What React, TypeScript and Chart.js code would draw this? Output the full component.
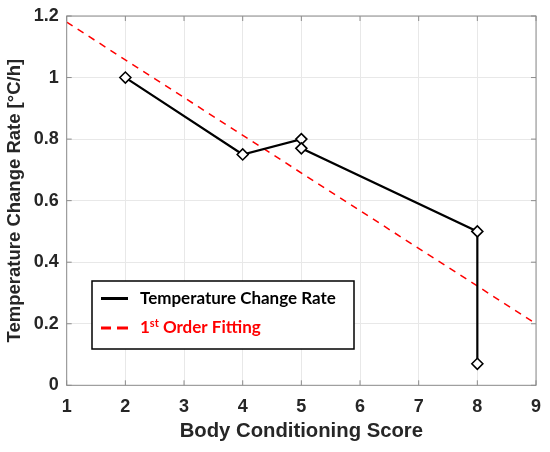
import { useRef, useEffect } from "react";
import { Chart, registerables, type ChartConfiguration, type Plugin } from "chart.js";

Chart.register(...registerables);

// measured series
const scoreX = [2, 4, 5, 5, 8, 8];
const rateY = [1.0, 0.75, 0.8, 0.77, 0.5, 0.07];

// 1st order fit endpoints
const fitX = [1, 9];
const fitY = [1.18, 0.2];

const xTicks = [1, 2, 3, 4, 5, 6, 7, 8, 9];
const yTicks = [0, 0.2, 0.4, 0.6, 0.8, 1, 1.2];
const yTickLabels = ["0", "0.2", "0.4", "0.6", "0.8", "1", "1.2"];

const legendLabels = ["Temperature Change Rate", "1st Order Fitting"];

const SANS = "'Liberation Sans', Arial, sans-serif";
const LEGEND_FONT = "bold 17px Lato, 'Open Sans', sans-serif";

// box, inward ticks and the legend, drawn MATLAB style
const boxPlugin: Plugin = {
  id: "boxPlugin",
  afterDatasetsDraw(chart) {
    const { ctx, chartArea: a, scales } = chart;
    const xs = scales.x;
    const ys = scales.y;
    ctx.save();
    ctx.strokeStyle = "#8c8c8c";
    ctx.lineWidth = 1;
    ctx.strokeRect(a.left, a.top, a.right - a.left, a.bottom - a.top);
    const t = 5;
    ctx.beginPath();
    xTicks.forEach((v) => {
      const px = xs.getPixelForValue(v);
      ctx.moveTo(px, a.bottom);
      ctx.lineTo(px, a.bottom - t);
      ctx.moveTo(px, a.top);
      ctx.lineTo(px, a.top + t);
    });
    yTicks.forEach((v) => {
      const py = ys.getPixelForValue(v);
      ctx.moveTo(a.left, py);
      ctx.lineTo(a.left + t, py);
      ctx.moveTo(a.right, py);
      ctx.lineTo(a.right - t, py);
    });
    ctx.stroke();

    // legend box
    const bx = 92, by = 281, bw = 262, bh = 68;
    ctx.fillStyle = "#ffffff";
    ctx.fillRect(bx, by, bw, bh);
    ctx.strokeStyle = "#000000";
    ctx.lineWidth = 1.5;
    ctx.strokeRect(bx, by, bw, bh);

    const r1 = 298.5, r2 = 328;
    ctx.lineWidth = 3;
    ctx.strokeStyle = "#000000";
    ctx.beginPath();
    ctx.moveTo(101, r1);
    ctx.lineTo(128, r1);
    ctx.stroke();
    ctx.strokeStyle = "#ff0000";
    ctx.beginPath();
    ctx.moveTo(101, r2);
    ctx.lineTo(111, r2);
    ctx.moveTo(117, r2);
    ctx.lineTo(128, r2);
    ctx.stroke();

    ctx.textBaseline = "middle";
    ctx.textAlign = "left";
    ctx.font = LEGEND_FONT;
    ctx.fillStyle = "#000000";
    ctx.fillText(legendLabels[0], 140, r1, 201);

    ctx.fillStyle = "#ff0000";
    const first = legendLabels[1];
    const num = first.slice(0, 1);
    const sup = first.slice(1, 3);
    const rest = first.slice(3);
    ctx.fillText(num, 140, r2);
    let cx = 140 + ctx.measureText(num).width;
    ctx.font = "bold 11px Lato, 'Open Sans', sans-serif";
    ctx.fillText(sup, cx, r2 - 5);
    cx += ctx.measureText(sup).width;
    ctx.font = LEGEND_FONT;
    ctx.fillText(rest, cx, r2, 123);
    ctx.restore();
  },
};

export default function App() {
  const chartRef = useRef<HTMLCanvasElement | null>(null);
  const chartInstanceRef = useRef<Chart | null>(null);

  useEffect(() => {
    document.body.style.margin = "0";
    if (chartRef.current) {
      const ctx = chartRef.current.getContext("2d");

      if (ctx) {
        if (chartInstanceRef.current) {
          chartInstanceRef.current.destroy();
        }

        const config: ChartConfiguration = {
          type: "scatter",
          data: {
            datasets: [
              {
                label: legendLabels[0],
                data: scoreX.map((x, i) => ({ x, y: rateY[i] })),
                showLine: true,
                borderColor: "#000000",
                borderWidth: 2.2,
                pointStyle: "rectRot",
                pointRadius: 5.5,
                pointBorderWidth: 1.6,
                pointBorderColor: "#000000",
                pointBackgroundColor: "#ffffff",
                order: 1,
              },
              {
                label: legendLabels[1],
                data: fitX.map((x, i) => ({ x, y: fitY[i] })),
                showLine: true,
                borderColor: "#ff0000",
                borderWidth: 1.5,
                borderDash: [7, 6],
                pointRadius: 0,
                order: 2,
              },
            ],
          },
          options: {
            responsive: false,
            animation: false,
            layout: { padding: { left: 0, right: 14, top: 16, bottom: 0 } },
            plugins: {
              legend: { display: false },
              tooltip: { enabled: false },
            },
            scales: {
              x: {
                type: "linear",
                min: 1,
                max: 9,
                afterBuildTicks: (axis) => {
                  axis.ticks = xTicks.map((v) => ({ value: v }));
                },
                afterFit: (axis) => {
                  axis.height = 66.7;
                  axis.paddingLeft = 0;
                  axis.paddingRight = 0;
                },
                grid: { color: "#e8e8e8", drawTicks: false },
                border: { display: false },
                ticks: {
                  color: "#262626",
                  font: { family: SANS, size: 18, weight: "bold" },
                  padding: 11,
                },
                title: {
                  display: true,
                  text: "Body Conditioning Score",
                  color: "#262626",
                  font: { family: SANS, size: 20.3, weight: "bold" },
                  padding: { top: 0, bottom: 8 },
                },
              },
              y: {
                type: "linear",
                min: 0,
                max: 1.2,
                afterBuildTicks: (axis) => {
                  axis.ticks = yTicks.map((v) => ({ value: v }));
                },
                afterFit: (axis) => {
                  axis.width = 66.7;
                  axis.paddingTop = 0;
                  axis.paddingBottom = 0;
                },
                grid: { color: "#e8e8e8", drawTicks: false },
                border: { display: false },
                ticks: {
                  color: "#262626",
                  font: { family: SANS, size: 18, weight: "bold" },
                  padding: 8,
                  callback: (_v, i) => yTickLabels[i],
                },
                title: {
                  display: true,
                  text: "Temperature Change Rate [°C/h]",
                  color: "#262626",
                  font: { family: SANS, size: 18.5, weight: "bold" },
                  padding: { top: 4, bottom: 4 },
                },
              },
            },
          },
          plugins: [boxPlugin],
        };

        chartInstanceRef.current = new Chart(ctx, config);
      }
    }

    return () => {
      if (chartInstanceRef.current) {
        chartInstanceRef.current.destroy();
      }
    };
  }, []);

  return (
    <div style={{ width: 550, height: 452 }}>
      <canvas ref={chartRef} width={550} height={452} style={{ width: 550, height: 452 }} />
    </div>
  );
}
